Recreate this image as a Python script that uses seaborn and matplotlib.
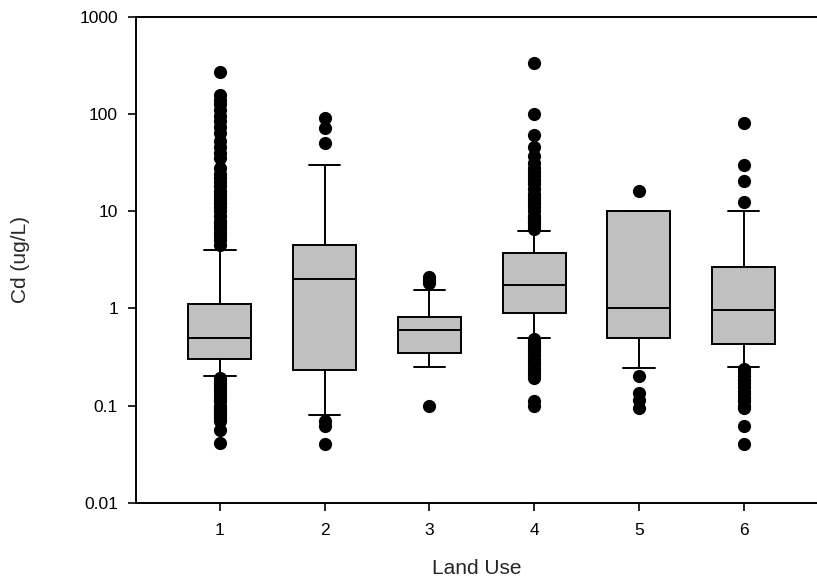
import pandas as pd
import numpy as np
import seaborn as sns
import matplotlib.pyplot as plt
from matplotlib.ticker import FixedLocator, NullLocator, FuncFormatter

sns.set_style("ticks")
plt.rcParams['font.family'] = ['Liberation Sans', 'DejaVu Sans']

land_use = ['1', '2', '3', '4', '5', '6']

# five number summary per land use: lower whisker, q1, median, q3, upper whisker
whisker_lo = [0.2, 0.08, 0.25, 0.5, 0.245, 0.25]
q1 = [0.3, 0.23, 0.345, 0.89, 0.5, 0.43]
median = [0.5, 2.0, 0.6, 1.75, 1.0, 0.95]
q3 = [1.1, 4.5, 0.82, 3.7, 10.0, 2.65]
whisker_hi = [4.0, 30.0, 1.55, 6.3, 10.0, 10.0]

# points outside the whiskers
out_1 = [4.5, 5, 5.5, 6, 6.5, 7, 7.5, 8, 9, 10, 11, 12, 13, 14, 15, 16, 18, 20, 22, 24,
         28, 35, 40, 46, 52, 63, 73, 85, 94, 109, 125, 139, 156, 270,
         0.19, 0.18, 0.17, 0.16, 0.15, 0.14, 0.13, 0.12, 0.11, 0.1, 0.095, 0.09,
         0.085, 0.08, 0.075, 0.07, 0.056, 0.041]
out_2 = [90, 71, 50, 0.07, 0.062, 0.04]
out_3 = [2.1, 1.95, 1.8, 0.1]
out_4 = [6.6, 7, 7.5, 8, 8.5, 9, 10, 11, 12, 13, 14, 15, 17, 19, 21, 23, 25, 28, 31, 37, 46,
         61, 100, 330,
         0.48, 0.45, 0.42, 0.39, 0.36, 0.33, 0.3, 0.28, 0.26, 0.24, 0.22, 0.2, 0.19,
         0.11, 0.1]
out_5 = [16, 0.2, 0.135, 0.114, 0.094]
out_6 = [80, 30, 20.5, 12.3,
         0.24, 0.22, 0.2, 0.185, 0.17, 0.155, 0.14, 0.13, 0.12, 0.11, 0.1, 0.094, 0.061, 0.04]
outliers = [out_1, out_2, out_3, out_4, out_5, out_6]

box_rows = []
for i, lu in enumerate(land_use):
    for v in [whisker_lo[i], q1[i], median[i], q3[i], whisker_hi[i]]:
        box_rows.append({'Land Use': lu, 'Cd': v})
boxDF = pd.DataFrame(box_rows)

out_rows = []
for lu, vals in zip(land_use, outliers):
    for v in vals:
        out_rows.append({'Land Use': lu, 'Cd': v})
outDF = pd.DataFrame(out_rows)

fig = plt.figure(figsize=(8.17, 5.83), dpi=100)
ax = fig.add_axes([0.1665, 0.1377, 0.8335, 0.8337])

sns.boxplot(data=boxDF, x='Land Use', y='Cd', order=land_use, whis=(0, 100),
            showfliers=False, width=0.6, color='#c0c0c0', linecolor='black',
            linewidth=1.4, saturation=1, log_scale=True, ax=ax)
sns.stripplot(data=outDF, x='Land Use', y='Cd', order=land_use, jitter=False,
              color='black', size=9.5, linewidth=0, ax=ax, zorder=3)

ax.set_ylim(0.01, 1000)
ax.set_xlim(-0.8, 5.7)
ax.yaxis.set_major_locator(FixedLocator([0.01, 0.1, 1, 10, 100, 1000]))
ax.yaxis.set_minor_locator(NullLocator())
ax.yaxis.set_major_formatter(FuncFormatter(lambda v, p: '%g' % v))

for s in ['left', 'bottom', 'top']:
    ax.spines[s].set_linewidth(1.4)
    ax.spines[s].set_color('black')
ax.spines['right'].set_visible(False)

ax.tick_params(axis='both', direction='out', width=1.2, color='black',
               labelsize=12.5, labelcolor='black')
ax.tick_params(axis='y', length=6, pad=7)
ax.tick_params(axis='x', length=5.5, pad=9)

ax.set_xlabel('Land Use', fontsize=15)
ax.set_ylabel('Cd (ug/L)', fontsize=15)
ax.xaxis.set_label_coords(0.5, -0.115)
ax.yaxis.set_label_coords(-0.156, 0.5)

fig.savefig('out.png', dpi=100)
